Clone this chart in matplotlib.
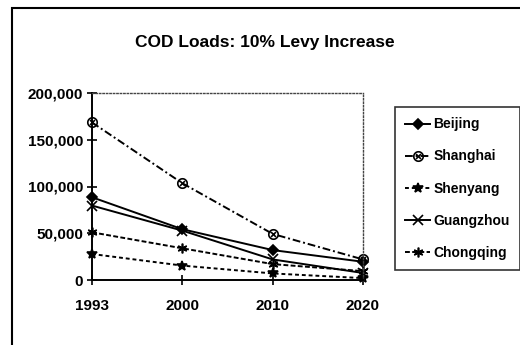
import matplotlib
matplotlib.use('Agg')
import matplotlib.pyplot as plt
import matplotlib.patches as patches
from matplotlib.ticker import FuncFormatter

plt.rcParams['font.family'] = ['Liberation Sans', 'DejaVu Sans']
plt.rcParams['font.weight'] = 'bold'

# ==========================================
# Data
# ==========================================
years = ['1993', '2000', '2010', '2020']
beijing = [88500, 54300, 32000, 19500]
shanghai = [168500, 103500, 49300, 22000]
shenyang = [27800, 15400, 7000, 2000]
guangzhou = [79600, 52800, 22000, 7500]
chongqing = [51000, 33900, 17000, 9500]
y_ticks = [0, 50000, 100000, 150000, 200000]

series = [
    ('Beijing', beijing, '-', 'D'),
    ('Shanghai', shanghai, (0, (4, 1.5, 1, 1.5)), '$\\otimes$'),
    ('Shenyang', shenyang, (0, (2, 1.5)), '*'),
    ('Guangzhou', guangzhou, '-', 'x'),
    ('Chongqing', chongqing, (0, (2.5, 1.2)), (6, 2, 0)),
]

fig = plt.figure(figsize=(5.2, 3.45), dpi=100)

# outer chart border (right/bottom edges run off the image)
border = patches.Rectangle((12 / 520, -0.05), 0.99, 1 - 8 / 345 + 0.05,
                           transform=fig.transFigure, fill=False,
                           edgecolor='black', linewidth=1.5)
fig.patches.append(border)

ax = fig.add_axes([92 / 520, 1 - 280 / 345, 271 / 520, 187 / 345])
x = list(range(len(years)))

for name, vals, ls, mk in series:
    mew = 0 if mk == '$\\otimes$' else 1.2
    ms = 5 if mk == 'D' else (8 if mk == '$\\otimes$' else 7)
    ax.plot(x, vals, linestyle=ls, color='black', linewidth=1.4,
            marker=mk, markersize=ms,
            markerfacecolor='black', markeredgecolor='black',
            markeredgewidth=mew, label=name, clip_on=False)

ax.set_xlim(0, 3)
ax.set_ylim(0, 200000)
ax.set_xticks(x)
ax.set_xticklabels(years)
ax.set_yticks(y_ticks)
ax.yaxis.set_major_formatter(FuncFormatter(lambda v, p: f'{int(v):,}'))
ax.tick_params(axis='both', direction='inout', length=7, width=1.2,
               labelsize=11)
ax.tick_params(axis='x', pad=10)
ax.tick_params(axis='y', pad=3)

ax.spines['left'].set_linewidth(1.4)
ax.spines['bottom'].set_linewidth(1.4)
for s in ['top', 'right']:
    ax.spines[s].set_linestyle((0, (1, 1.5)))
    ax.spines[s].set_color('#444444')
    ax.spines[s].set_linewidth(1.0)

fig.text(265 / 520, 1 - 43 / 345, 'COD Loads: 10% Levy Increase',
         ha='center', va='center', fontsize=12.5, fontweight='bold')

leg = ax.legend(loc='upper left', bbox_to_anchor=(395 / 520, 1 - 107 / 345),
                bbox_transform=fig.transFigure, fontsize=10, frameon=True,
                fancybox=False, edgecolor='black', handlelength=1.8,
                handletextpad=0.2, labelspacing=1.3, borderpad=0.75,
                borderaxespad=0)
leg.get_frame().set_linewidth(1.2)

plt.savefig('out.png', dpi=100)
